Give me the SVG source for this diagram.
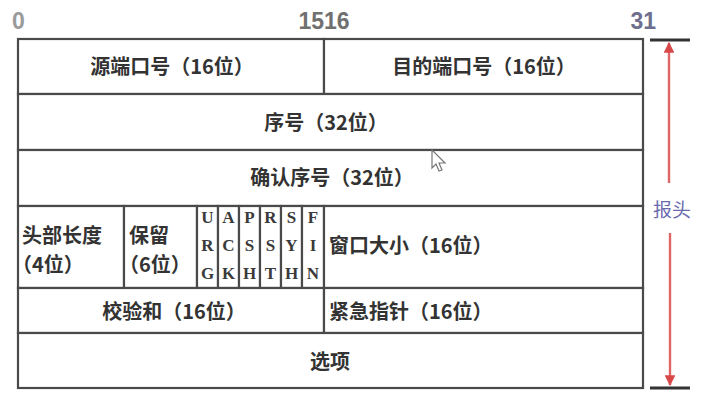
<svg xmlns="http://www.w3.org/2000/svg" width="713" height="408" viewBox="0 0 713 408">
<defs>
<style>
.c{fill:#fff;stroke:#4a4a4a;stroke-width:2.2}
.t{font-family:"Noto Sans CJK SC","Noto Sans",sans-serif;font-size:20px;font-weight:bold;fill:#333}
.m{text-anchor:middle}
.f{font-family:"Liberation Serif","Noto Serif",serif;font-size:17px;font-weight:bold;fill:#3a3a3a;text-anchor:middle}
.n{font-family:"Liberation Sans",Arial,sans-serif;font-size:23px;font-weight:bold}
.r{stroke:#e06666;stroke-width:2.4;fill:none}
</style>
<marker id="ah" viewBox="0 0 10 10" refX="9" refY="5" markerWidth="4.5" markerHeight="4.5" orient="auto-start-reverse">
<path d="M0,0 L10,5 L0,10 z" fill="#d94848"/>
</marker>
</defs>
<rect width="713" height="408" fill="#fff"/>

<g id="scale">
<text class="n" x="12" y="29" fill="#9a9a9a">0</text>
<text class="n" x="324" y="29" fill="#707070" text-anchor="middle">1516</text>
<text class="n" x="656" y="29" fill="#6e6e8e" text-anchor="end">31</text>
</g>

<g id="src-port"><rect class="c" x="18" y="39" width="306" height="55"/><text class="t m" x="172" y="74">源端口号（16位）</text></g>
<g id="dst-port"><rect class="c" x="324" y="39" width="319" height="55"/><text class="t m" x="484" y="74">目的端口号（16位）</text></g>
<g id="seq"><rect class="c" x="18" y="94" width="625" height="56"/><text class="t m" x="326" y="130">序号（32位）</text></g>
<g id="ack"><rect class="c" x="18" y="150" width="625" height="56"/><text class="t m" x="332" y="185">确认序号（32位）</text></g>
<g id="hdr-len"><rect class="c" x="18" y="206" width="106" height="82"/><text class="t" x="22" y="243">头部长度</text><text class="t" x="12" y="272">（4位）</text></g>
<g id="reserved"><rect class="c" x="124" y="206" width="73" height="82"/><text class="t" x="129" y="243">保留</text><text class="t" x="119" y="272">（6位）</text></g>
<g id="urg"><rect class="c" x="197" y="206" width="21" height="82"/><text class="f" x="207.5" y="223">U</text><text class="f" x="207.5" y="251">R</text><text class="f" x="207.5" y="279">G</text></g>
<g id="ackf"><rect class="c" x="218" y="206" width="21" height="82"/><text class="f" x="228.5" y="223">A</text><text class="f" x="228.5" y="251">C</text><text class="f" x="228.5" y="279">K</text></g>
<g id="psh"><rect class="c" x="239" y="206" width="21" height="82"/><text class="f" x="249.5" y="223">P</text><text class="f" x="249.5" y="251">S</text><text class="f" x="249.5" y="279">H</text></g>
<g id="rst"><rect class="c" x="260" y="206" width="21" height="82"/><text class="f" x="270.5" y="223">R</text><text class="f" x="270.5" y="251">S</text><text class="f" x="270.5" y="279">T</text></g>
<g id="syn"><rect class="c" x="281" y="206" width="21" height="82"/><text class="f" x="291.5" y="223">S</text><text class="f" x="291.5" y="251">Y</text><text class="f" x="291.5" y="279">H</text></g>
<g id="fin"><rect class="c" x="302" y="206" width="22" height="82"/><text class="f" x="313" y="223">F</text><text class="f" x="313" y="251">I</text><text class="f" x="313" y="279">N</text></g>
<g id="window"><rect class="c" x="324" y="206" width="319" height="82"/><text class="t" x="329" y="253">窗口大小（16位）</text></g>
<g id="checksum"><rect class="c" x="18" y="288" width="306" height="45"/><text class="t m" x="174" y="319">校验和（16位）</text></g>
<g id="urgent"><rect class="c" x="324" y="288" width="319" height="45"/><text class="t" x="329" y="319">紧急指针（16位）</text></g>
<g id="options"><rect class="c" x="18" y="333" width="625" height="55"/><text class="t m" x="330" y="369">选项</text></g>

<g id="cursor"><path d="M432,150 L432,168 L436,164 L439,171 L442,170 L439,163 L445,163 Z" fill="#fff" stroke="#777" stroke-width="1.2"/></g>

<g id="connectors">
<line x1="650" y1="40" x2="690" y2="40" stroke="#333" stroke-width="3"/>
<line x1="650" y1="388" x2="690" y2="388" stroke="#333" stroke-width="3"/>
<line class="r" x1="669" y1="183" x2="669" y2="43" marker-end="url(#ah)"/>
<line class="r" x1="670" y1="233" x2="670" y2="385" marker-end="url(#ah)"/>
</g>
<g id="label-header"><text class="t m" x="672" y="217" style="fill:#6b6bb0;font-weight:normal;font-size:19px">报头</text></g>
</svg>
